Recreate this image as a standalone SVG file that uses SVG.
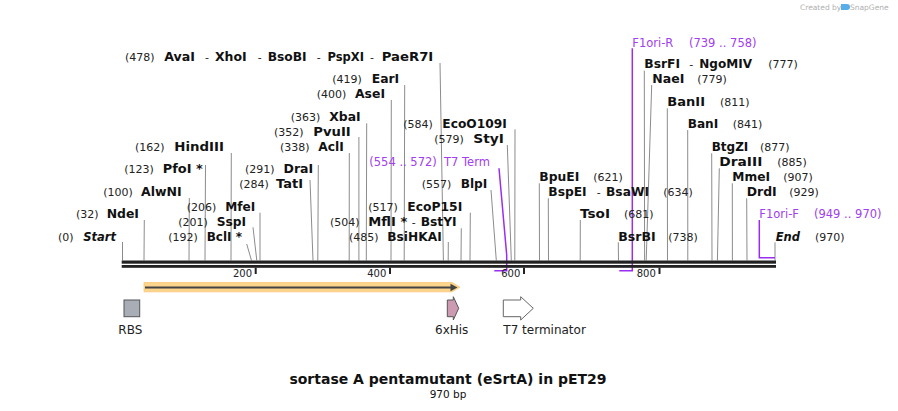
<svg xmlns="http://www.w3.org/2000/svg" width="898" height="411" viewBox="0 0 898 411">
<style>
text{font-family:"DejaVu Sans","Liberation Sans",sans-serif;fill:#111}
.p{font-size:11px;fill:#222}
.n{font-size:11.5px;font-weight:bold}
.ni{font-size:11.5px;font-weight:bold;font-style:italic}
.f{font-size:12px;fill:#222}
.tk{font-size:10px;fill:#222;text-anchor:end}
.pu{font-size:11.5px;fill:#a040f0}
.cut{stroke:#8c8c8c;stroke-width:1;fill:none}
.pl{stroke:#9a2ef0;stroke-width:1.5;fill:none}
.wm{font-size:7.5px;fill:#b0b0b0}
</style>
<rect width="898" height="411" fill="#fff"/>
<g id="watermark">
<text class="wm" x="800" y="9.5">Created by</text>
<path d="M841,4 h6 a3,3 0 0 1 0,6 h-6 z" fill="#5aaee8"/>
<text class="wm" x="850" y="9.5">SnapGene</text>
</g>
<g id="connectors">
<line class="cut" x1="440" y1="63" x2="443.4" y2="260.5"/>
<line class="cut" x1="404.7" y1="85" x2="404.2" y2="260.5"/>
<line class="cut" x1="391.3" y1="100" x2="391" y2="260.5"/>
<line class="cut" x1="366.7" y1="123.3" x2="366.3" y2="260.5"/>
<line class="cut" x1="358.9" y1="137" x2="358.9" y2="260.5"/>
<line class="cut" x1="349.3" y1="153" x2="349.2" y2="260.5"/>
<line class="cut" x1="231.3" y1="153" x2="231" y2="260.5"/>
<line class="cut" x1="318.3" y1="165" x2="317.8" y2="260.5"/>
<line class="cut" x1="205.5" y1="165" x2="205" y2="260.5"/>
<line class="cut" x1="310" y1="180" x2="313" y2="260.5"/>
<line class="cut" x1="189.3" y1="198" x2="189" y2="260.5"/>
<line class="cut" x1="260" y1="212.7" x2="260" y2="260.5"/>
<line class="cut" x1="144.3" y1="220" x2="144" y2="260.5"/>
<line class="cut" x1="253" y1="227.3" x2="256.8" y2="260.5"/>
<line class="cut" x1="122.5" y1="242" x2="122.5" y2="260.5"/>
<line class="cut" x1="246.7" y1="244" x2="251.5" y2="260.5"/>
<line class="cut" x1="515" y1="129.3" x2="514.8" y2="260.5"/>
<line class="cut" x1="507.3" y1="145" x2="511.3" y2="260.5"/>
<line class="cut" x1="491" y1="190" x2="496.3" y2="260.5"/>
<line class="cut" x1="470.3" y1="212.7" x2="470" y2="260.5"/>
<line class="cut" x1="461.3" y1="228.3" x2="461" y2="260.5"/>
<line class="cut" x1="448.3" y1="242" x2="448.2" y2="260.5"/>
<line class="cut" x1="644.3" y1="70.7" x2="644.6" y2="260.5"/>
<line class="cut" x1="651.7" y1="85" x2="646.2" y2="260.5"/>
<line class="cut" x1="667.3" y1="108.3" x2="667.5" y2="260.5"/>
<line class="cut" x1="687.7" y1="130" x2="687.8" y2="260.5"/>
<line class="cut" x1="711.7" y1="153.3" x2="712" y2="260.5"/>
<line class="cut" x1="719.3" y1="168.3" x2="717.4" y2="260.5"/>
<line class="cut" x1="539.3" y1="183.3" x2="539.5" y2="260.5"/>
<line class="cut" x1="732.3" y1="183.3" x2="732.4" y2="260.5"/>
<line class="cut" x1="548.3" y1="198.3" x2="548.5" y2="260.5"/>
<line class="cut" x1="746.7" y1="198.3" x2="747" y2="260.5"/>
<line class="cut" x1="580.3" y1="220" x2="580.2" y2="260.5"/>
<line class="cut" x1="618.3" y1="242.3" x2="618.5" y2="260.5"/>
<line class="cut" x1="775" y1="242.3" x2="775" y2="260.5"/>
<polyline class="pl" points="499,168.3 506.7,255 506.7,270.7 494.3,270.7"/>
<polyline class="pl" points="632.3,48.3 632.3,270.7 619.3,270.7"/>
<polyline class="pl" points="759.3,220 759.3,257.7 775,257.7"/>
</g>
<g id="backbone">
<rect x="121.7" y="260.5" width="654.3" height="3.2" fill="#222"/>
<rect x="121.7" y="265" width="654.3" height="2.8" fill="#222"/>
<rect x="254.7" y="267.7" width="2" height="6.3" fill="#222"/>
<rect x="389" y="267.7" width="2" height="6.3" fill="#222"/>
<rect x="523" y="267.7" width="2" height="6.3" fill="#222"/>
<rect x="658.5" y="267.7" width="2" height="6.3" fill="#222"/>
<text class="tk" x="252" y="277">200</text>
<text class="tk" x="386.3" y="277">400</text>
<text class="tk" x="520.3" y="277">600</text>
<text class="tk" x="655.8" y="277">800</text>
</g>
<g id="site-AvaI">
<text class="p" x="125" y="61">(478)</text>
<text class="n" x="164.3" y="61" textLength="30.7" lengthAdjust="spacingAndGlyphs">AvaI</text>
<text class="p" x="205" y="61">-</text><text class="n" x="215" y="61" textLength="31.7" lengthAdjust="spacingAndGlyphs">XhoI</text>
<text class="p" x="257.7" y="61">-</text><text class="n" x="267.7" y="61" textLength="39" lengthAdjust="spacingAndGlyphs">BsoBI</text>
<text class="p" x="316.7" y="61">-</text><text class="n" x="327.5" y="61" textLength="36.5" lengthAdjust="spacingAndGlyphs">PspXI</text>
<text class="p" x="370" y="61">-</text><text class="n" x="381.7" y="61" textLength="51.6" lengthAdjust="spacingAndGlyphs">PaeR7I</text>
</g>
<g id="site-EarI"><text class="p" x="332.3" y="83.3">(419)</text><text class="n" x="371.7" y="83.3" textLength="27.5" lengthAdjust="spacingAndGlyphs">EarI</text></g>
<g id="site-AseI"><text class="p" x="316.7" y="98.3">(400)</text><text class="n" x="355" y="98.3" textLength="30" lengthAdjust="spacingAndGlyphs">AseI</text></g>
<g id="site-XbaI"><text class="p" x="290.7" y="121.3">(363)</text><text class="n" x="329.3" y="121.3" textLength="31.4" lengthAdjust="spacingAndGlyphs">XbaI</text></g>
<g id="site-PvuII"><text class="p" x="274" y="135.7">(352)</text><text class="n" x="313.3" y="135.7" textLength="37.4" lengthAdjust="spacingAndGlyphs">PvuII</text></g>
<g id="site-AclI"><text class="p" x="280" y="150.7">(338)</text><text class="n" x="318.3" y="150.7" textLength="25.5" lengthAdjust="spacingAndGlyphs">AclI</text></g>
<g id="site-HindIII"><text class="p" x="135" y="150.7">(162)</text><text class="n" x="174.3" y="150.7" textLength="49.7" lengthAdjust="spacingAndGlyphs">HindIII</text></g>
<g id="site-DraI"><text class="p" x="245" y="173.3">(291)</text><text class="n" x="283.5" y="173.3" textLength="29.7" lengthAdjust="spacingAndGlyphs">DraI</text></g>
<g id="site-PfoI"><text class="p" x="124.3" y="173.3">(123)</text><text class="n" x="162.7" y="173.3" textLength="40" lengthAdjust="spacingAndGlyphs">PfoI *</text></g>
<g id="site-TatI"><text class="p" x="239.3" y="188.3">(284)</text><text class="n" x="276" y="188.3" textLength="27" lengthAdjust="spacingAndGlyphs">TatI</text></g>
<g id="site-AlwNI"><text class="p" x="103.3" y="196.3">(100)</text><text class="n" x="141" y="196.3" textLength="40.7" lengthAdjust="spacingAndGlyphs">AlwNI</text></g>
<g id="site-MfeI"><text class="p" x="186.7" y="210.7">(206)</text><text class="n" x="225.3" y="210.7" textLength="30" lengthAdjust="spacingAndGlyphs">MfeI</text></g>
<g id="site-NdeI"><text class="p" x="76" y="218">(32)</text><text class="n" x="106.7" y="218" textLength="32.3" lengthAdjust="spacingAndGlyphs">NdeI</text></g>
<g id="site-SspI"><text class="p" x="178.3" y="225.7">(201)</text><text class="n" x="216.7" y="225.7" textLength="29.3" lengthAdjust="spacingAndGlyphs">SspI</text></g>
<g id="site-Start"><text class="p" x="58" y="240.7">(0)</text><text class="ni" x="83.3" y="240.7">Start</text></g>
<g id="site-BclI"><text class="p" x="168.3" y="240.7">(192)</text><text class="n" x="206.7" y="240.7" textLength="35.3" lengthAdjust="spacingAndGlyphs">BclI *</text></g>
<g id="site-EcoO109I"><text class="p" x="403.3" y="128.3">(584)</text><text class="n" x="442.3" y="128.3" textLength="64.4" lengthAdjust="spacingAndGlyphs">EcoO109I</text></g>
<g id="site-StyI"><text class="p" x="434.3" y="143">(579)</text><text class="n" x="473.3" y="143" textLength="30.7" lengthAdjust="spacingAndGlyphs">StyI</text></g>
<g id="feature-T7Term"><text class="pu" x="369.3" y="165.7">(554 .. 572)</text><text class="pu" x="444" y="165.7">T7 Term</text></g>
<g id="site-BlpI"><text class="p" x="421.7" y="188">(557)</text><text class="n" x="460.7" y="188" textLength="26.6" lengthAdjust="spacingAndGlyphs">BlpI</text></g>
<g id="site-EcoP15I"><text class="p" x="368.3" y="210.7">(517)</text><text class="n" x="407.3" y="210.7" textLength="55" lengthAdjust="spacingAndGlyphs">EcoP15I</text></g>
<g id="site-MflI"><text class="p" x="330" y="225.7">(504)</text><text class="n" x="368.3" y="225.7" textLength="39" lengthAdjust="spacingAndGlyphs">MflI *</text><text class="p" x="411.7" y="225.7">-</text><text class="n" x="420.7" y="225.7" textLength="36" lengthAdjust="spacingAndGlyphs">BstYI</text></g>
<g id="site-BsiHKAI"><text class="p" x="349" y="240.7">(485)</text><text class="n" x="387.3" y="240.7" textLength="54.4" lengthAdjust="spacingAndGlyphs">BsiHKAI</text></g>
<g id="feature-F1oriR"><text class="pu" x="632.3" y="46.7">F1ori-R</text><text class="pu" x="689" y="46.7">(739 .. 758)</text></g>
<g id="site-BsrFI"><text class="n" x="644.3" y="68" textLength="35.7" lengthAdjust="spacingAndGlyphs">BsrFI</text><text class="p" x="689.3" y="68">-</text><text class="n" x="699.3" y="68" textLength="52.7" lengthAdjust="spacingAndGlyphs">NgoMIV</text><text class="p" x="768.3" y="68">(777)</text></g>
<g id="site-NaeI"><text class="n" x="652.3" y="83.3" textLength="32" lengthAdjust="spacingAndGlyphs">NaeI</text><text class="p" x="697.3" y="83.3">(779)</text></g>
<g id="site-BanII"><text class="n" x="667.3" y="105.7" textLength="37.7" lengthAdjust="spacingAndGlyphs">BanII</text><text class="p" x="720" y="105.7">(811)</text></g>
<g id="site-BanI"><text class="n" x="687.7" y="128.3" textLength="30.6" lengthAdjust="spacingAndGlyphs">BanI</text><text class="p" x="732.7" y="128.3">(841)</text></g>
<g id="site-BtgZI"><text class="n" x="711.7" y="150.7" textLength="36.6" lengthAdjust="spacingAndGlyphs">BtgZI</text><text class="p" x="760" y="150.7">(877)</text></g>
<g id="site-DraIII"><text class="n" x="719.3" y="166.3" textLength="43" lengthAdjust="spacingAndGlyphs">DraIII</text><text class="p" x="777.3" y="166.3">(885)</text></g>
<g id="site-BpuEI"><text class="n" x="539.3" y="181.3" textLength="40" lengthAdjust="spacingAndGlyphs">BpuEI</text><text class="p" x="593.3" y="181.3">(621)</text></g>
<g id="site-MmeI"><text class="n" x="732.3" y="181.3" textLength="37.7" lengthAdjust="spacingAndGlyphs">MmeI</text><text class="p" x="783.3" y="181.3">(907)</text></g>
<g id="site-BspEI"><text class="n" x="548.3" y="196.3" textLength="38.4" lengthAdjust="spacingAndGlyphs">BspEI</text><text class="p" x="596.7" y="196.3">-</text><text class="n" x="606" y="196.3" textLength="43" lengthAdjust="spacingAndGlyphs">BsaWI</text><text class="p" x="663.3" y="196.3">(634)</text></g>
<g id="site-DrdI"><text class="n" x="746.7" y="196.3" textLength="30" lengthAdjust="spacingAndGlyphs">DrdI</text><text class="p" x="789.3" y="196.3">(929)</text></g>
<g id="site-TsoI"><text class="n" x="580" y="218" textLength="30" lengthAdjust="spacingAndGlyphs">TsoI</text><text class="p" x="624" y="218">(681)</text></g>
<g id="feature-F1oriF"><text class="pu" x="759.3" y="218">F1ori-F</text><text class="pu" x="814" y="218">(949 .. 970)</text></g>
<g id="site-BsrBI"><text class="n" x="618.3" y="240.7" textLength="37.4" lengthAdjust="spacingAndGlyphs">BsrBI</text><text class="p" x="668.3" y="240.7">(738)</text></g>
<g id="site-End"><text class="ni" x="775.7" y="240.7">End</text><text class="p" x="815" y="240.7">(970)</text></g>
<g id="feature-CDS">
<path d="M144,282.5 H452 L460,287.2 L452,291.8 H144 Z" fill="#fcd48c" stroke="#f9c877" stroke-width="0.8"/>
<line x1="145" y1="287.5" x2="452" y2="287.5" stroke="#444" stroke-width="2.2"/>
<path d="M450.5,283.8 L457.5,287.5 L450.5,291.2 Z" fill="#444"/>
</g>
<g id="feature-RBS">
<rect x="124" y="300" width="15.7" height="16.7" fill="#a9aeb6" stroke="#555" stroke-width="1"/>
<text class="f" x="130.3" y="333.5" text-anchor="middle">RBS</text>
</g>
<g id="feature-6xHis">
<path d="M447.3,300 H453.3 V296.7 L458.7,308.3 L453.3,320 V316.7 H447.3 Z" fill="#cc9ab1" stroke="#555" stroke-width="1"/>
<text class="f" x="451.7" y="333.5" text-anchor="middle">6xHis</text>
</g>
<g id="feature-T7terminator">
<path d="M503.3,300 H520.7 V296.7 L533.3,308.3 L520.7,320 V316.7 H503.3 Z" fill="#fff" stroke="#666" stroke-width="1"/>
<text class="f" x="503.3" y="333.5">T7 terminator</text>
</g>
<g id="title">
<text x="448" y="384" text-anchor="middle" font-size="14" font-weight="bold">sortase A pentamutant (eSrtA) in pET29</text>
<text x="448" y="398" text-anchor="middle" font-size="10.5" fill="#222">970 bp</text>
</g>
</svg>
